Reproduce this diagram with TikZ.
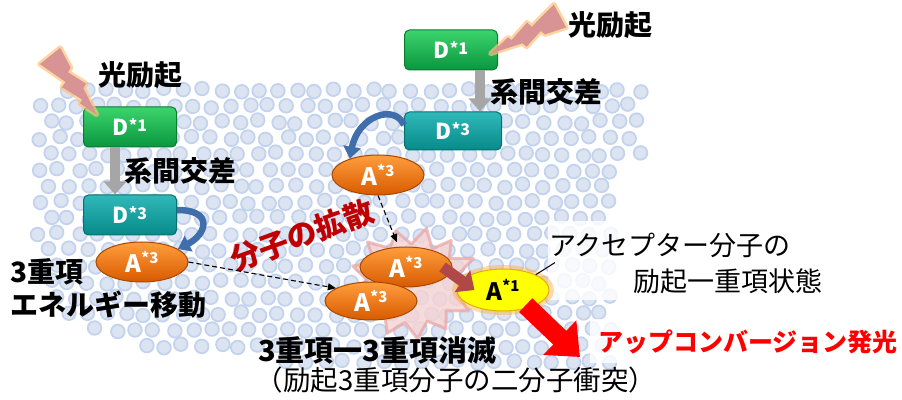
\documentclass[tikz,border=0pt]{standalone}
\usepackage{fontspec}
\setmainfont{Noto Sans CJK JP}
\usetikzlibrary{shapes.geometric,arrows.meta}

\definecolor{dotfill}{HTML}{DCE4F2}
\definecolor{dotring}{HTML}{C3D3EE}
\definecolor{boltpink}{HTML}{D89494}
\definecolor{boltglow}{HTML}{FFC37A}
\definecolor{grnT}{HTML}{3CD46C}
\definecolor{grnB}{HTML}{0A9640}
\definecolor{grnD}{HTML}{0B7A33}
\definecolor{tealT}{HTML}{30B8B8}
\definecolor{tealB}{HTML}{078A8A}
\definecolor{tealD}{HTML}{05706F}
\definecolor{orgT}{HTML}{FF9E3D}
\definecolor{orgB}{HTML}{D85A00}
\definecolor{orgD}{HTML}{A84800}
\definecolor{ylw}{HTML}{FFFF00}
\definecolor{ylwD}{HTML}{E0B000}
\definecolor{ylwGlow}{HTML}{FFB040}
\definecolor{arrowgray}{HTML}{A6A6A6}
\definecolor{curlblue}{HTML}{3F6EAB}
\definecolor{diffred}{HTML}{C00000}
\definecolor{brownred}{HTML}{B04848}
\definecolor{upred}{HTML}{FF0000}
\definecolor{starfill}{HTML}{F5D3D3}
\definecolor{staredge}{HTML}{E9A3A3}

\newcommand\dlab[2]{#1\raisebox{.22em}{\fontsize{16}{16}\selectfont #2}}
\newcommand\alab[2]{#1\raisebox{.38em}{\fontsize{15}{15}\selectfont #2}}

\begin{document}
\begin{tikzpicture}[x=1pt,y=1pt,
  dot/.style={fill=dotfill, draw=dotring, line width=1.8pt},
  dbox/.style={rectangle, rounded corners=5pt, minimum width=93pt, minimum height=40pt,
    inner sep=0pt, text=white, font=\bfseries\fontsize{22}{24}\selectfont, line width=1pt},
  singlet/.style={dbox, top color=grnT, bottom color=grnB, draw=grnD},
  triplet/.style={dbox, top color=tealT, bottom color=tealB, draw=tealD},
  accT/.style={ellipse, minimum width=92pt, minimum height=40pt, inner sep=0pt,
    top color=orgT, bottom color=orgB, draw=orgD, line width=1pt, text=white,
    font=\bfseries\fontsize{24}{26}\selectfont},
  accS/.style={ellipse, minimum width=92pt, minimum height=42pt, inner sep=0pt,
    fill=ylw, draw=ylwD, line width=1pt, text=black,
    font=\bfseries\fontsize{24}{26}\selectfont},
  note/.style={inner sep=0pt, font=\bfseries\fontsize{28}{30}\selectfont},
  plainnote/.style={inner sep=0pt, font=\fontsize{27}{29}\selectfont},
  bolt/.style={fill=boltpink, preaction={draw=boltglow, line width=5pt, line join=round, draw opacity=.7}},
  isc/.style={draw=arrowgray, line width=10pt, -{Triangle[length=13pt,width=22pt]}},
  curl/.style={draw=curlblue, line width=6.5pt, -{Triangle[length=12pt,width=17pt]}},
  hop/.style={draw=black, line width=1.1pt, dash pattern=on 5pt off 3pt, -{Triangle[length=8pt,width=7pt]}},
  transfer/.style={draw=brownred, line width=11pt, -{Triangle[length=15pt,width=26pt]}},
  emit/.style={draw=upred, line width=19pt, -{Triangle[length=28pt,width=46pt]}},
  burst/.style={fill=starfill, fill opacity=.8, draw=staredge, draw opacity=.7, line width=3pt, line join=round},
]
\useasboundingbox (0,0) rectangle (902,399);
\fill[white] (0,0) rectangle (902,399);

% solvent molecules
\pgfmathsetseed{11}
\foreach \r in {0,...,19}{
  \foreach \c in {0,...,34}{
    \pgfmathsetmacro\dx{40+19*\c+9.5*mod(\r,2)+2.5*rand}
    \pgfmathsetmacro\dy{325-16*\r+2*rand}
    \pgfmathsetmacro\yb{\dx<80 ? 141-(\dx-28)*1.385 : (\dx<170 ? 69-(\dx-80)*0.244 : (\dx<300 ? 47-(\dx-170)*0.115 : 28))}
    \pgfmathsetmacro\yt{\dx<200 ? 306+(\dx-28)*0.1 : 323}
    \pgfmathsetmacro\xr{\dy>245 ? 642 : 614}
    \pgfmathtruncatemacro\keep{(\dy>=\yb)&&(\dy<=\yt)&&(\dx<=\xr)}
    \ifnum\keep=1 \filldraw[dot] (\dx,\dy) circle (6.8); \fi
  }
}

% label backdrops
\fill[white, opacity=.8] (548,99) rectangle (845,178);
\fill[white, opacity=.8] (590,36) rectangle (900,80);

% donors
\node[singlet] (d1l) at (130,272) {\dlab{D}{*1}};
\node[triplet] (d3l) at (130,184) {\dlab{D}{*3}};
\node[singlet] (d1r) at (451,349) {\dlab{D}{*1}};
\node[triplet, minimum width=97pt, minimum height=38pt] (d3r) at (453,268) {\dlab{D}{*3}};

% excitation light
\begin{scope}[shift={(50,343)}, rotate=-51.5]
  \path[bolt] (0,-13) -- (30,-4) -- (32,-10) -- (54,-2) -- (56,-6) -- (75,0) -- (46,6) -- (44,11) -- (24,4) -- (22,9) -- (0,13) -- cycle;
\end{scope}
\begin{scope}[shift={(560,383)}, rotate=208.5]
  \path[bolt] (0,-13) -- (30,-4) -- (32,-10) -- (54,-2) -- (56,-6) -- (79,0) -- (46,6) -- (44,11) -- (24,4) -- (22,9) -- (0,13) -- cycle;
\end{scope}

% labels
\node[note] (exL) at (140,324) {光励起};
\node[note] (iscL) at (180,228) {系間交差};
\node[note] (exR) at (610,374) {光励起};
\node[note] (iscR) at (546,307) {系間交差};
\node[note, anchor=west] (tt1) at (10,127) {3重項};
\node[note, anchor=west] (tt2) at (10,94) {エネルギー移動};
\node[inner sep=0pt, font=\bfseries\fontsize{30}{32}\selectfont, text=diffred, rotate=20] (diff) at (302,164) {分子の拡散};

% annihilation burst
\begin{scope}[shift={(413,116)}, xscale=1.15]
  \path[burst] (0:55) -- (12:40) -- (25:58) -- (38:40) -- (52:54) -- (64:38) -- (78:56) -- (92:39)
    -- (106:54) -- (120:40) -- (134:57) -- (148:40) -- (162:55) -- (176:40) -- (190:56) -- (204:40)
    -- (218:54) -- (232:40) -- (246:55) -- (260:40) -- (274:56) -- (288:40) -- (302:54) -- (316:40)
    -- (330:56) -- (344:40) -- cycle;
\end{scope}

% acceptors
\node[accT] (al) at (142,137) {\alab{A}{*3}};
\node[accT] (ar1) at (378,224) {\alab{A}{*3}};
\node[accT] (ar2) at (406,132) {\alab{A}{*3}};
\node[accT, minimum height=38pt] (am) at (371,98) {\alab{A}{*3}};
\fill[ylwGlow, opacity=.45] (503,109) ellipse (51 and 25);
\node[accS] (a1) at (503,109) {\alab{A}{*1}};

\node[plainnote] (accl1) at (670,154) {アクセプター分子の};
\node[plainnote] (accl2) at (728,118) {励起一重項状態};
\node[inner sep=0pt, font=\bfseries\fontsize{25}{27}\selectfont, text=upred] (uc) at (748,57) {アップコンバージョン発光};
\node[note, anchor=west, font=\bfseries\fontsize{29}{31}\selectfont] (tta1) at (258,49) {3重項一3重項消滅};
\node[plainnote, font=\fontsize{27.5}{29}\selectfont] (tta2) at (456,19) {（励起3重項分子の二分子衝突）};

% processes
\draw[isc] ([xshift=-15pt]d1l.south) -- ([xshift=-15pt]d3l.north);
\draw[isc] ([xshift=29pt]d1r.south) -- ([xshift=29pt]d1r.south |- d3r.north);
\draw[curl] ([yshift=5pt]d3l.east) .. controls +(38,0) and +(28,14) .. (al.20);
\draw[curl] ([yshift=6pt]d3r.west) .. controls +(-10,22) and +(8,42) .. (ar1.150);
\draw[hop] (al.east) -- (am.160);
\draw[hop, shorten >=5pt] (ar1.south) -- (ar2.110);
\draw[transfer] ([xshift=-10pt]ar2.east) -- ([xshift=18pt]a1.west);
\coordinate (uptip) at (580,42);
\draw[emit, shorten <=-4pt] (a1.-35) -- (uptip);
\draw[line width=1pt] (a1.25) -- ([shift={(6pt,-5pt)}]accl1.south west);
\end{tikzpicture}
\end{document}
